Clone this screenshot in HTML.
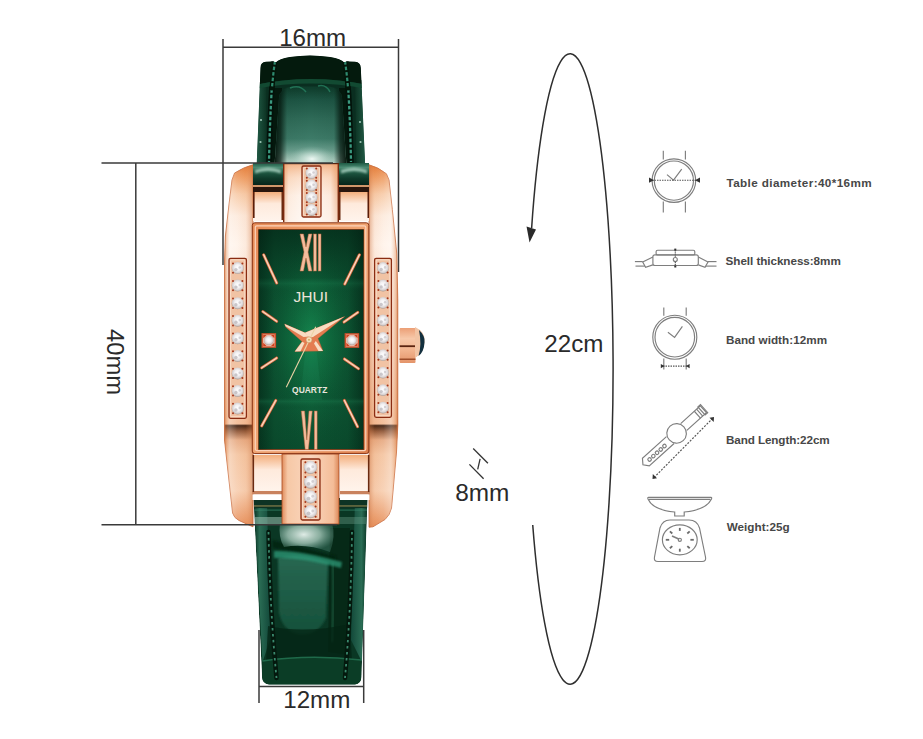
<!DOCTYPE html>
<html><head><meta charset="utf-8">
<style>
html,body{margin:0;padding:0;background:#fff;}
body{width:923px;height:739px;overflow:hidden;position:relative;font-family:"Liberation Sans",sans-serif;}
svg{position:absolute;left:0;top:0;display:block;}
.dim{font-family:"Liberation Sans",sans-serif;font-size:24.5px;fill:#2a2a2a;}
.lbl{font-family:"Liberation Sans",sans-serif;font-size:11.7px;font-weight:bold;fill:#474747;}
</style></head>
<body>
<svg width="923" height="739" viewBox="0 0 923 739">
<defs>
  <linearGradient id="gStrapH" x1="254" y1="0" x2="368" y2="0" gradientUnits="userSpaceOnUse">
    <stop offset="0" stop-color="#06200f"/>
    <stop offset="0.05" stop-color="#1d5842"/>
    <stop offset="0.12" stop-color="#0f3a29"/>
    <stop offset="0.22" stop-color="#082818"/>
    <stop offset="0.30" stop-color="#1a4d3a"/>
    <stop offset="0.50" stop-color="#3f7c67"/>
    <stop offset="0.70" stop-color="#1a4d3a"/>
    <stop offset="0.78" stop-color="#082818"/>
    <stop offset="0.88" stop-color="#0f3a29"/>
    <stop offset="0.95" stop-color="#1d5842"/>
    <stop offset="1" stop-color="#06200f"/>
  </linearGradient>
  <linearGradient id="gStrapV" x1="0" y1="85" x2="0" y2="165" gradientUnits="userSpaceOnUse">
    <stop offset="0" stop-color="#000" stop-opacity="0.55"/>
    <stop offset="0.5" stop-color="#000" stop-opacity="0.15"/>
    <stop offset="1" stop-color="#fff" stop-opacity="0.25"/>
  </linearGradient>
  <radialGradient id="gStrapHi" cx="311" cy="162" r="30" gradientUnits="userSpaceOnUse" gradientTransform="translate(311 162) scale(1 1.6) translate(-311 -162)">
    <stop offset="0" stop-color="#d8eee4" stop-opacity="0.9"/>
    <stop offset="0.5" stop-color="#8fbfae" stop-opacity="0.45"/>
    <stop offset="1" stop-color="#5a9a84" stop-opacity="0"/>
  </radialGradient>
  <linearGradient id="gBar" x1="0" y1="165" x2="0" y2="527" gradientUnits="userSpaceOnUse">
    <stop offset="0" stop-color="#e47a34"/>
    <stop offset="0.035" stop-color="#ee9c62"/>
    <stop offset="0.08" stop-color="#f7cba8"/>
    <stop offset="0.14" stop-color="#fdeadc"/>
    <stop offset="0.22" stop-color="#fff3ea"/>
    <stop offset="0.5" stop-color="#f9d8c2"/>
    <stop offset="0.715" stop-color="#f2ba94"/>
    <stop offset="0.72" stop-color="#3a1a0a"/>
    <stop offset="0.735" stop-color="#8a5030"/>
    <stop offset="0.76" stop-color="#e6a880"/>
    <stop offset="0.8" stop-color="#f4c4a0"/>
    <stop offset="0.9" stop-color="#f7ceb0"/>
    <stop offset="1" stop-color="#e68c56"/>
  </linearGradient>
  <linearGradient id="gBarL" x1="224" y1="0" x2="253" y2="0" gradientUnits="userSpaceOnUse">
    <stop offset="0" stop-color="#c2602e" stop-opacity="0.9"/>
    <stop offset="0.07" stop-color="#e0905c" stop-opacity="0.45"/>
    <stop offset="0.2" stop-color="#fff" stop-opacity="0.3"/>
    <stop offset="0.45" stop-color="#fff" stop-opacity="0.1"/>
    <stop offset="0.75" stop-color="#e8a070" stop-opacity="0.1"/>
    <stop offset="1" stop-color="#c87040" stop-opacity="0.5"/>
  </linearGradient>
  <linearGradient id="gBarR" x1="398" y1="0" x2="369" y2="0" gradientUnits="userSpaceOnUse">
    <stop offset="0" stop-color="#c2602e" stop-opacity="0.9"/>
    <stop offset="0.07" stop-color="#e0905c" stop-opacity="0.45"/>
    <stop offset="0.25" stop-color="#fff" stop-opacity="0.3"/>
    <stop offset="0.5" stop-color="#fff" stop-opacity="0.1"/>
    <stop offset="0.8" stop-color="#e8a070" stop-opacity="0.1"/>
    <stop offset="1" stop-color="#c87040" stop-opacity="0.5"/>
  </linearGradient>
  <linearGradient id="gLug" x1="0" y1="0" x2="0" y2="1">
    <stop offset="0" stop-color="#f3ae7c"/>
    <stop offset="0.4" stop-color="#feeadc"/>
    <stop offset="1" stop-color="#fff4ec"/>
  </linearGradient>
  <linearGradient id="gLugC" x1="0" y1="0" x2="1" y2="0">
    <stop offset="0" stop-color="#eaa676"/>
    <stop offset="0.1" stop-color="#fce4d2"/>
    <stop offset="0.45" stop-color="#fff5ee"/>
    <stop offset="0.85" stop-color="#fde2d0"/>
    <stop offset="1" stop-color="#e8a070"/>
  </linearGradient>
  <radialGradient id="gDial" cx="311" cy="338" r="60" gradientUnits="userSpaceOnUse" gradientTransform="translate(311 338) scale(0.85 1.7) translate(-311 -338)">
    <stop offset="0" stop-color="#15874f" stop-opacity="0.95"/>
    <stop offset="0.5" stop-color="#107443" stop-opacity="0.55"/>
    <stop offset="1" stop-color="#0d5e38" stop-opacity="0"/>
  </radialGradient>
  <linearGradient id="gDialH" x1="258.6" y1="0" x2="363.6" y2="0" gradientUnits="userSpaceOnUse">
    <stop offset="0" stop-color="#021c10" stop-opacity="0.55"/>
    <stop offset="0.15" stop-color="#021c10" stop-opacity="0.12"/>
    <stop offset="0.5" stop-color="#021c10" stop-opacity="0"/>
    <stop offset="0.85" stop-color="#021c10" stop-opacity="0.12"/>
    <stop offset="1" stop-color="#021c10" stop-opacity="0.55"/>
  </linearGradient>
  <linearGradient id="gDialV" x1="0" y1="229.6" x2="0" y2="449.6" gradientUnits="userSpaceOnUse">
    <stop offset="0" stop-color="#021c10" stop-opacity="0.55"/>
    <stop offset="0.15" stop-color="#021c10" stop-opacity="0.25"/>
    <stop offset="0.22" stop-color="#021c10" stop-opacity="0.15"/>
    <stop offset="0.245" stop-color="#2a9a66" stop-opacity="0.12"/>
    <stop offset="0.28" stop-color="#021c10" stop-opacity="0.05"/>
    <stop offset="0.5" stop-color="#021c10" stop-opacity="0"/>
    <stop offset="0.76" stop-color="#021c10" stop-opacity="0.05"/>
    <stop offset="0.78" stop-color="#2a9a66" stop-opacity="0.2"/>
    <stop offset="0.82" stop-color="#021c10" stop-opacity="0.0"/>
    <stop offset="1" stop-color="#021c10" stop-opacity="0.12"/>
  </linearGradient>
  <linearGradient id="gFrame" x1="0" y1="0" x2="1" y2="1">
    <stop offset="0" stop-color="#e68c58"/>
    <stop offset="0.5" stop-color="#efa472"/>
    <stop offset="1" stop-color="#dc7e4c"/>
  </linearGradient>
  <linearGradient id="gMark" x1="0" y1="0" x2="1" y2="0">
    <stop offset="0" stop-color="#f9d4bd"/>
    <stop offset="0.5" stop-color="#f0a882"/>
    <stop offset="1" stop-color="#d9845c"/>
  </linearGradient>
  <radialGradient id="gDia" cx="0.5" cy="0.45" r="0.55">
    <stop offset="0" stop-color="#ffffff"/>
    <stop offset="0.45" stop-color="#f2f0f2"/>
    <stop offset="0.8" stop-color="#d6d0d0"/>
    <stop offset="1" stop-color="#a89890"/>
  </radialGradient>
  <linearGradient id="gBStrapH" x1="254" y1="0" x2="368" y2="0" gradientUnits="userSpaceOnUse">
    <stop offset="0" stop-color="#052414"/>
    <stop offset="0.05" stop-color="#1b5a40"/>
    <stop offset="0.15" stop-color="#0a3323"/>
    <stop offset="0.25" stop-color="#0d3b28"/>
    <stop offset="0.45" stop-color="#2b6a52"/>
    <stop offset="0.65" stop-color="#154b34"/>
    <stop offset="0.8" stop-color="#0a3323"/>
    <stop offset="0.9" stop-color="#1a5a40"/>
    <stop offset="1" stop-color="#052414"/>
  </linearGradient>
  <linearGradient id="gCrown" x1="0" y1="0" x2="0" y2="1">
    <stop offset="0" stop-color="#ec9f76"/>
    <stop offset="0.3" stop-color="#f7c8a9"/>
    <stop offset="0.6" stop-color="#f3b792"/>
    <stop offset="1" stop-color="#e4946a"/>
  </linearGradient>

  <linearGradient id="gCP" x1="275" y1="0" x2="346" y2="0" gradientUnits="userSpaceOnUse">
    <stop offset="0" stop-color="#03140b" stop-opacity="0.95"/>
    <stop offset="0.08" stop-color="#03140b" stop-opacity="0.7"/>
    <stop offset="0.17" stop-color="#03140b" stop-opacity="0.05"/>
    <stop offset="0.5" stop-color="#03140b" stop-opacity="0"/>
    <stop offset="0.83" stop-color="#03140b" stop-opacity="0.05"/>
    <stop offset="0.92" stop-color="#03140b" stop-opacity="0.7"/>
    <stop offset="1" stop-color="#03140b" stop-opacity="0.95"/>
  </linearGradient>
  <linearGradient id="gCPV" x1="0" y1="88" x2="0" y2="166" gradientUnits="userSpaceOnUse">
    <stop offset="0" stop-color="#0f3d2c"/>
    <stop offset="0.15" stop-color="#1d5544"/>
    <stop offset="0.4" stop-color="#2f6b58"/>
    <stop offset="0.65" stop-color="#3d7b68"/>
    <stop offset="0.8" stop-color="#6a9f8e"/>
    <stop offset="0.92" stop-color="#a8cbbd"/>
    <stop offset="1" stop-color="#c5ddd3"/>
  </linearGradient>
  <linearGradient id="gSideR" x1="1" y1="0" x2="0" y2="0">
    <stop offset="0" stop-color="#061e14"/>
    <stop offset="0.4" stop-color="#215a45"/>
    <stop offset="1" stop-color="#0c3323"/>
  </linearGradient>
  <filter id="blur1" x="-20%" y="-20%" width="140%" height="140%"><feGaussianBlur stdDeviation="1.2"/></filter>
  <filter id="blur2" x="-30%" y="-30%" width="160%" height="160%"><feGaussianBlur stdDeviation="2.2"/></filter>
  <linearGradient id="gUpS" x1="0" y1="0" x2="0" y2="1">
    <stop offset="0" stop-color="#1e5a44"/>
    <stop offset="0.2" stop-color="#4a8a72"/>
    <stop offset="0.4" stop-color="#1f5a44"/>
    <stop offset="0.7" stop-color="#0f3a2a"/>
    <stop offset="1" stop-color="#06241a"/>
  </linearGradient>
  <linearGradient id="gSideB" x1="0" y1="0" x2="1" y2="0">
    <stop offset="0" stop-color="#0a3424"/>
    <stop offset="0.35" stop-color="#2a6c54"/>
    <stop offset="1" stop-color="#13493a"/>
  </linearGradient>
  <linearGradient id="gSideBR" x1="1" y1="0" x2="0" y2="0">
    <stop offset="0" stop-color="#0a3424"/>
    <stop offset="0.35" stop-color="#2a6c54"/>
    <stop offset="1" stop-color="#13493a"/>
  </linearGradient>
  <linearGradient id="gLugV" x1="0" y1="0" x2="0" y2="1">
    <stop offset="0" stop-color="#ec9a62" stop-opacity="0.7"/>
    <stop offset="0.25" stop-color="#f4b88c" stop-opacity="0.25"/>
    <stop offset="0.55" stop-color="#fff" stop-opacity="0.25"/>
    <stop offset="1" stop-color="#fff" stop-opacity="0.5"/>
  </linearGradient>
  <linearGradient id="gLugC2" x1="0" y1="0" x2="1" y2="0">
    <stop offset="0" stop-color="#e08c5c"/>
    <stop offset="0.1" stop-color="#f6c8a6"/>
    <stop offset="0.5" stop-color="#fad6be"/>
    <stop offset="0.9" stop-color="#f4bd98"/>
    <stop offset="1" stop-color="#dc8858"/>
  </linearGradient>
  <linearGradient id="gTongue" x1="0" y1="0" x2="0" y2="1">
    <stop offset="0" stop-color="#286852"/>
    <stop offset="1" stop-color="#15503a"/>
  </linearGradient>
  <radialGradient id="gHiB" cx="0.45" cy="0.4" r="0.6">
    <stop offset="0" stop-color="#eaf5f0" stop-opacity="0.95"/>
    <stop offset="0.5" stop-color="#a9cbbd" stop-opacity="0.8"/>
    <stop offset="1" stop-color="#5a9482" stop-opacity="0.3"/>
  </radialGradient>
  <linearGradient id="gBC" x1="0" y1="508" x2="0" y2="680" gradientUnits="userSpaceOnUse">
    <stop offset="0" stop-color="#0d4430"/>
    <stop offset="0.3" stop-color="#0e4a33"/>
    <stop offset="0.6" stop-color="#0b4029"/>
    <stop offset="0.8" stop-color="#08321f"/>
    <stop offset="1" stop-color="#0a3a25"/>
  </linearGradient>
  <radialGradient id="gHi2" cx="0.5" cy="0.5" r="0.5">
    <stop offset="0" stop-color="#f2fbf7" stop-opacity="0.95"/>
    <stop offset="0.45" stop-color="#c6e0d6" stop-opacity="0.6"/>
    <stop offset="1" stop-color="#8ab8a8" stop-opacity="0"/>
  </radialGradient>
  <linearGradient id="gSide" x1="0" y1="0" x2="1" y2="0">
    <stop offset="0" stop-color="#061e14"/>
    <stop offset="0.4" stop-color="#215a45"/>
    <stop offset="1" stop-color="#0c3323"/>
  </linearGradient>
  <radialGradient id="gSoft" cx="0.5" cy="0.5" r="0.5">
    <stop offset="0" stop-color="#9cc9b8" stop-opacity="0.9"/>
    <stop offset="1" stop-color="#5f9e86" stop-opacity="0"/>
  </radialGradient>
</defs>
<g stroke="#3a3a3a" stroke-width="1.5" fill="none">
  <line x1="223" y1="39" x2="223" y2="265"/>
  <line x1="398.5" y1="39" x2="398.5" y2="272"/>
  <line x1="223" y1="47.3" x2="398.5" y2="47.3"/>
</g>
<g id="watch">
<clipPath id="clipBS"><path d="M253.5,498 L367.5,498 L361.5,677 Q361,684 355,684.5 L269,684.5 Q262.5,684 262,677 Z"/></clipPath>
<g clip-path="url(#clipBS)">
<path d="M253.5,498 L367.5,498 L361.5,677 Q361,684 355,684.5 L269,684.5 Q262.5,684 262,677 Z" fill="#0a3724"/>
<path d="M254,500 L267,500 L270,640 L262.5,662 Z" fill="url(#gSideB)"/>
<path d="M355,500 L367.3,500 L362,662 L351,640 Z" fill="url(#gSideBR)"/>
<path d="M330,528 L350,528 L349,655 L328,652 Z" fill="#03200f" opacity="0.6"/>
<path d="M278,558 Q300,552 328,562 L326,618 Q318,636 298,634 Q282,630 279,612 Z" fill="url(#gTongue)" filter="url(#blur1)"/>
<path d="M333,562 Q334,600 332,642" stroke="#2a7a5a" stroke-width="1.6" fill="none" opacity="0.7" filter="url(#blur1)"/>
<path d="M268,626 Q305,634 350,624 L352,662 L266,662 Z" fill="#042414" opacity="0.75"/>
<path d="M272,540 Q300,546 336,556 L336,563 Q300,552 272,548 Z" fill="#03200f" opacity="0.75" filter="url(#blur1)"/>
<path d="M274,551 Q300,550 342,562 L341,568 Q300,557 274,558 Z" fill="#2f9a78" opacity="0.75" filter="url(#blur1)"/>
<path d="M280,523 L332,523 Q336,536 330,552 Q306,543 284,547 Q278,537 280,523 Z" fill="url(#gHiB)"/>
<path d="M262.5,661 Q310,654 361,660 L361.5,690 L261.5,690 Z" fill="#0b3d26"/>
<path d="M262.5,661 Q310,654 361,660" stroke="#1f6a4a" stroke-width="1.3" fill="none"/>
<path d="M268.5,532 Q270,610 276.5,678" stroke="#04180d" stroke-width="4.5" fill="none" stroke-linecap="round"/><path d="M268.5,532 Q270,610 276.5,678" stroke="#3a8a6e" stroke-width="1.8" stroke-dasharray="2.5,3.5" fill="none"/>
<path d="M352,532 Q351,610 345,678" stroke="#04180d" stroke-width="4.5" fill="none" stroke-linecap="round"/><path d="M352,532 Q351,610 345,678" stroke="#3a8a6e" stroke-width="1.8" stroke-dasharray="2.5,3.5" fill="none"/>
<rect x="253.5" y="499" width="114" height="9" fill="#0d3324"/>
<rect x="253.5" y="505.3" width="114" height="1.3" fill="#9a8a50" opacity="0.8"/>
<rect x="253.5" y="509.5" width="114" height="1.2" fill="#3a8a70" opacity="0.6"/>
<path d="M254,517 L283,517 L283,524 L254,524 Z" fill="#9cc0b0" opacity="0.55"/>
<path d="M339,517 L367,517 L367,524 L339,524 Z" fill="#6a9a88" opacity="0.4"/>
</g>
<clipPath id="clipTS"><path d="M260.5,68 Q260.5,62 266,61.8 L273,61.5 L276,62.5 Q279,58.5 290,57 Q310,54 330,57 Q341,58.5 344,62.5 L347,61.5 L355,61.8 Q360.5,62 360.8,68 L366.5,195 L255.5,195 Z"/></clipPath>
<g clip-path="url(#clipTS)">
<path d="M260.5,68 Q260.5,62 266,61.8 L273,61.5 L276,62.5 Q279,58.5 290,57 Q310,54 330,57 Q341,58.5 344,62.5 L347,61.5 L355,61.8 Q360.5,62 360.8,68 L366.5,195 L255.5,195 Z" fill="#0a2e20"/>
<path d="M250,80 L266.5,80 L265.5,170 L250,170 Z" fill="url(#gSide)"/>
<path d="M355,80 L372,80 L372,170 L356.5,170 Z" fill="url(#gSideR)"/>
<path d="M270,88 L282,88 L278,166 L268,166 Z" fill="#03140b" opacity="0.85"/>
<path d="M339,88 L351,88 L353,166 L343,166 Z" fill="#03140b" opacity="0.85"/>
<path d="M279,98 Q280,88 292,86.5 L329,86.5 Q341,88 342,98 L346.5,166 L274.5,166 Z" fill="url(#gCPV)"/>
<path d="M279,98 Q280,88 292,86.5 L329,86.5 Q341,88 342,98 L346.5,166 L274.5,166 Z" fill="url(#gCP)"/>
<ellipse cx="312" cy="159" rx="24" ry="13" fill="url(#gHi2)"/>
<path d="M273.5,62 Q270,110 269,162" stroke="#03120a" stroke-width="5.5" fill="none" stroke-linecap="round"/><path d="M273.5,62 Q270,110 269,162" stroke="#3a9a80" stroke-width="2.3" stroke-dasharray="3.5,2" fill="none"/>
<path d="M346.5,62 Q350,110 351,162" stroke="#03120a" stroke-width="5.5" fill="none" stroke-linecap="round"/><path d="M346.5,62 Q350,110 351,162" stroke="#3a9a80" stroke-width="2.3" stroke-dasharray="3.5,2" fill="none"/>
<circle cx="261" cy="120" r="1.1" fill="#bfe3d4" opacity="0.8"/>
<circle cx="260.5" cy="142" r="1.1" fill="#bfe3d4" opacity="0.8"/>
<circle cx="360" cy="122" r="1.1" fill="#bfe3d4" opacity="0.8"/>
<circle cx="360.5" cy="142" r="1.1" fill="#bfe3d4" opacity="0.8"/>
<path d="M250,50 L372,50 L372,86 Q311,72 250,86 Z" fill="#041a0d"/>
<path d="M250,86 Q311,72 372,86 L372,90 Q311,77 250,90 Z" fill="#124a32"/>
<path d="M275,61 Q273,75 272,88" stroke="#031509" stroke-width="5" fill="none" stroke-linecap="round"/><path d="M275,61 Q273,75 272,88" stroke="#2f8c70" stroke-width="2.2" stroke-dasharray="3.5,2" fill="none"/>
<path d="M345,61 Q347,75 348,88" stroke="#031509" stroke-width="5" fill="none" stroke-linecap="round"/><path d="M345,61 Q347,75 348,88" stroke="#2f8c70" stroke-width="2.2" stroke-dasharray="3.5,2" fill="none"/>
<path d="M290,88 Q300,84 306,92 M318,86 Q326,84 330,92" stroke="#2a8a68" stroke-width="1.5" fill="none" opacity="0.7"/>
</g>
<path d="M253,164.8 Q244,167 234.6,173 L232,180 L229.2,203 L225.4,236 L224.5,262 L224.5,440 L232.6,513 Q234,518 239,520.5 L250,525.5 L253,526.8 Z" fill="url(#gBar)" stroke="#c8683a" stroke-width="0.8"/>
<path d="M253,164.8 Q244,167 234.6,173 L232,180 L229.2,203 L225.4,236 L224.5,262 L224.5,440 L232.6,513 Q234,518 239,520.5 L250,525.5 L253,526.8 Z" fill="url(#gBarL)"/>
<path d="M369,164.8 Q378,167 386.4,173.8 L389,180 L392.3,209.5 L396.8,254 L397.8,300 L397.8,425 L396.5,452 L391.5,508 Q390,515 385,519.5 L373,526.8 L369,527.2 Z" fill="url(#gBar)" stroke="#c8683a" stroke-width="0.8"/>
<path d="M369,164.8 Q378,167 386.4,173.8 L389,180 L392.3,209.5 L396.8,254 L397.8,300 L397.8,425 L396.5,452 L391.5,508 Q390,515 385,519.5 L373,526.8 L369,527.2 Z" fill="url(#gBarR)"/>
<rect x="253" y="163" width="30" height="22" fill="url(#gUpS)"/>
<path d="M255,170 Q268,165 281,170 L281,173.5 Q268,168.5 255,173.5 Z" fill="#b8dccc" opacity="0.75" filter="url(#blur1)"/>
<rect x="253" y="185" width="30" height="2" fill="#d0966a"/>
<rect x="253" y="187" width="30" height="5" fill="#2a150c"/>
<rect x="253" y="192" width="30" height="29" fill="url(#gLug)"/>
<rect x="339" y="163" width="30" height="22" fill="url(#gUpS)"/>
<path d="M341,170 Q354,165 367,170 L367,173.5 Q354,168.5 341,173.5 Z" fill="#b8dccc" opacity="0.75" filter="url(#blur1)"/>
<rect x="339" y="185" width="30" height="2" fill="#d0966a"/>
<rect x="339" y="187" width="30" height="5" fill="#2a150c"/>
<rect x="339" y="192" width="30" height="29" fill="url(#gLug)"/>
<rect x="253" y="192" width="1.6" height="26" fill="#5a1d08"/>
<rect x="281.5" y="192" width="1.5" height="28" fill="#6a2a10"/>
<rect x="339" y="192" width="1.5" height="28" fill="#6a2a10"/>
<rect x="367.5" y="192" width="1.5" height="26" fill="#5a1d08"/>
<rect x="283" y="163.5" width="56" height="58.5" fill="url(#gLugC)"/>
<rect x="283" y="163.5" width="56" height="58.5" fill="url(#gLugV)"/>
<rect x="283" y="163" width="56" height="1.2" fill="#5a2410"/>
<rect x="283" y="163.5" width="1.4" height="58.5" fill="#7a2a10"/>
<rect x="337.6" y="163.5" width="1.4" height="58.5" fill="#7a2a10"/>
<rect x="302" y="166" width="19" height="51" rx="1.5" fill="#f1c3a4" stroke="#8a2c12" stroke-width="1.3"/><rect x="303.6" y="167.6" width="15.8" height="47.8" rx="1" fill="none" stroke="#fbe2d2" stroke-width="0.8"/><circle cx="311.5" cy="173.1" r="6.0" fill="url(#gDia)"/><circle cx="309.7" cy="174.6" r="1.68" fill="#b8b4b8" opacity="0.7"/><circle cx="313.6" cy="172.5" r="1.32" fill="#c4c0c4" opacity="0.7"/><circle cx="306.8" cy="168.5" r="1.0" fill="#a8381c"/><circle cx="316.2" cy="168.5" r="1.0" fill="#a8381c"/><circle cx="306.8" cy="177.8" r="1.0" fill="#a8381c"/><circle cx="316.2" cy="177.8" r="1.0" fill="#a8381c"/><circle cx="311.5" cy="185.4" r="6.0" fill="url(#gDia)"/><circle cx="309.7" cy="186.9" r="1.68" fill="#b8b4b8" opacity="0.7"/><circle cx="313.6" cy="184.8" r="1.32" fill="#c4c0c4" opacity="0.7"/><circle cx="306.8" cy="180.7" r="1.0" fill="#a8381c"/><circle cx="316.2" cy="180.7" r="1.0" fill="#a8381c"/><circle cx="306.8" cy="190.0" r="1.0" fill="#a8381c"/><circle cx="316.2" cy="190.0" r="1.0" fill="#a8381c"/><circle cx="311.5" cy="197.6" r="6.0" fill="url(#gDia)"/><circle cx="309.7" cy="199.1" r="1.68" fill="#b8b4b8" opacity="0.7"/><circle cx="313.6" cy="197.0" r="1.32" fill="#c4c0c4" opacity="0.7"/><circle cx="306.8" cy="193.0" r="1.0" fill="#a8381c"/><circle cx="316.2" cy="193.0" r="1.0" fill="#a8381c"/><circle cx="306.8" cy="202.3" r="1.0" fill="#a8381c"/><circle cx="316.2" cy="202.3" r="1.0" fill="#a8381c"/><circle cx="311.5" cy="209.9" r="6.0" fill="url(#gDia)"/><circle cx="309.7" cy="211.4" r="1.68" fill="#b8b4b8" opacity="0.7"/><circle cx="313.6" cy="209.3" r="1.32" fill="#c4c0c4" opacity="0.7"/><circle cx="306.8" cy="205.2" r="1.0" fill="#a8381c"/><circle cx="316.2" cy="205.2" r="1.0" fill="#a8381c"/><circle cx="306.8" cy="214.5" r="1.0" fill="#a8381c"/><circle cx="316.2" cy="214.5" r="1.0" fill="#a8381c"/>
<rect x="252.5" y="455" width="29.5" height="37" fill="url(#gLug)"/>
<rect x="252.5" y="491" width="29.5" height="3.5" fill="#c9825e"/>
<rect x="252.5" y="494.5" width="29.5" height="5.5" fill="#ffffff"/>
<rect x="340" y="455" width="29.5" height="37" fill="url(#gLug)"/>
<rect x="340" y="491" width="29.5" height="3.5" fill="#c9825e"/>
<rect x="340" y="494.5" width="29.5" height="5.5" fill="#ffffff"/>
<rect x="252.5" y="455" width="1.6" height="37" fill="#6a2a10"/>
<rect x="367.9" y="455" width="1.6" height="37" fill="#6a2a10"/>
<rect x="282" y="454" width="57" height="70" fill="url(#gLugC2)" stroke="#a84a22" stroke-width="0.8"/>
<rect x="301" y="459" width="19" height="61" rx="1.5" fill="#f1c3a4" stroke="#8a2c12" stroke-width="1.3"/><rect x="302.6" y="460.6" width="15.8" height="57.8" rx="1" fill="none" stroke="#fbe2d2" stroke-width="0.8"/><circle cx="310.5" cy="467.4" r="6.6" fill="url(#gDia)"/><circle cx="308.5" cy="469.0" r="1.85" fill="#b8b4b8" opacity="0.7"/><circle cx="312.8" cy="466.7" r="1.45" fill="#c4c0c4" opacity="0.7"/><circle cx="305.4" cy="462.2" r="1.0" fill="#a8381c"/><circle cx="315.6" cy="462.2" r="1.0" fill="#a8381c"/><circle cx="305.4" cy="472.5" r="1.0" fill="#a8381c"/><circle cx="315.6" cy="472.5" r="1.0" fill="#a8381c"/><circle cx="310.5" cy="482.1" r="6.6" fill="url(#gDia)"/><circle cx="308.5" cy="483.8" r="1.85" fill="#b8b4b8" opacity="0.7"/><circle cx="312.8" cy="481.5" r="1.45" fill="#c4c0c4" opacity="0.7"/><circle cx="305.4" cy="477.0" r="1.0" fill="#a8381c"/><circle cx="315.6" cy="477.0" r="1.0" fill="#a8381c"/><circle cx="305.4" cy="487.3" r="1.0" fill="#a8381c"/><circle cx="315.6" cy="487.3" r="1.0" fill="#a8381c"/><circle cx="310.5" cy="496.9" r="6.6" fill="url(#gDia)"/><circle cx="308.5" cy="498.5" r="1.85" fill="#b8b4b8" opacity="0.7"/><circle cx="312.8" cy="496.2" r="1.45" fill="#c4c0c4" opacity="0.7"/><circle cx="305.4" cy="491.7" r="1.0" fill="#a8381c"/><circle cx="315.6" cy="491.7" r="1.0" fill="#a8381c"/><circle cx="305.4" cy="502.0" r="1.0" fill="#a8381c"/><circle cx="315.6" cy="502.0" r="1.0" fill="#a8381c"/><circle cx="310.5" cy="511.6" r="6.6" fill="url(#gDia)"/><circle cx="308.5" cy="513.3" r="1.85" fill="#b8b4b8" opacity="0.7"/><circle cx="312.8" cy="511.0" r="1.45" fill="#c4c0c4" opacity="0.7"/><circle cx="305.4" cy="506.5" r="1.0" fill="#a8381c"/><circle cx="315.6" cy="506.5" r="1.0" fill="#a8381c"/><circle cx="305.4" cy="516.8" r="1.0" fill="#a8381c"/><circle cx="315.6" cy="516.8" r="1.0" fill="#a8381c"/>
<rect x="252.3" y="222.8" width="116.5" height="230.8" rx="2.5" fill="url(#gFrame)" stroke="#8a3212" stroke-width="1"/>
<rect x="255.3" y="225.8" width="110.5" height="224.8" rx="1.5" fill="none" stroke="#fbd3bb" stroke-width="1.2"/>
<rect x="258.6" y="229.6" width="105" height="220" fill="#0c5533" stroke="#9a3e18" stroke-width="0.8"/>
<rect x="258.6" y="229.6" width="105" height="220" fill="url(#gDial)"/>
<rect x="258.6" y="229.6" width="105" height="220" fill="url(#gDialH)"/>
<rect x="258.6" y="229.6" width="105" height="220" fill="url(#gDialV)"/>
<path d="M306,345 L316,345 L322,400 L300,400 Z" fill="#2ab078" opacity="0.12"/>
<line x1="263.7" y1="254.8" x2="276.7" y2="283" stroke="#a84a22" stroke-width="3.1" stroke-linecap="round"/><line x1="263.7" y1="254.8" x2="276.7" y2="283" stroke="#ee9f78" stroke-width="2.2" stroke-linecap="round"/><line x1="263.7" y1="254.8" x2="276.7" y2="283" stroke="#fde0cc" stroke-width="0.9900000000000001" stroke-linecap="round"/>
<line x1="359.4" y1="254.8" x2="344.8" y2="284" stroke="#a84a22" stroke-width="3.1" stroke-linecap="round"/><line x1="359.4" y1="254.8" x2="344.8" y2="284" stroke="#ee9f78" stroke-width="2.2" stroke-linecap="round"/><line x1="359.4" y1="254.8" x2="344.8" y2="284" stroke="#fde0cc" stroke-width="0.9900000000000001" stroke-linecap="round"/>
<line x1="262.8" y1="311.6" x2="276.7" y2="321.3" stroke="#a84a22" stroke-width="3.1" stroke-linecap="round"/><line x1="262.8" y1="311.6" x2="276.7" y2="321.3" stroke="#ee9f78" stroke-width="2.2" stroke-linecap="round"/><line x1="262.8" y1="311.6" x2="276.7" y2="321.3" stroke="#fde0cc" stroke-width="0.9900000000000001" stroke-linecap="round"/>
<line x1="357.8" y1="312.4" x2="344" y2="322" stroke="#a84a22" stroke-width="3.1" stroke-linecap="round"/><line x1="357.8" y1="312.4" x2="344" y2="322" stroke="#ee9f78" stroke-width="2.2" stroke-linecap="round"/><line x1="357.8" y1="312.4" x2="344" y2="322" stroke="#fde0cc" stroke-width="0.9900000000000001" stroke-linecap="round"/>
<line x1="276.7" y1="358" x2="261.7" y2="367.8" stroke="#a84a22" stroke-width="3.1" stroke-linecap="round"/><line x1="276.7" y1="358" x2="261.7" y2="367.8" stroke="#ee9f78" stroke-width="2.2" stroke-linecap="round"/><line x1="276.7" y1="358" x2="261.7" y2="367.8" stroke="#fde0cc" stroke-width="0.9900000000000001" stroke-linecap="round"/>
<line x1="344.4" y1="359" x2="358.5" y2="368.7" stroke="#a84a22" stroke-width="3.1" stroke-linecap="round"/><line x1="344.4" y1="359" x2="358.5" y2="368.7" stroke="#ee9f78" stroke-width="2.2" stroke-linecap="round"/><line x1="344.4" y1="359" x2="358.5" y2="368.7" stroke="#fde0cc" stroke-width="0.9900000000000001" stroke-linecap="round"/>
<line x1="275.8" y1="400.4" x2="261.7" y2="425.9" stroke="#a84a22" stroke-width="3.1" stroke-linecap="round"/><line x1="275.8" y1="400.4" x2="261.7" y2="425.9" stroke="#ee9f78" stroke-width="2.2" stroke-linecap="round"/><line x1="275.8" y1="400.4" x2="261.7" y2="425.9" stroke="#fde0cc" stroke-width="0.9900000000000001" stroke-linecap="round"/>
<line x1="344.4" y1="400.4" x2="357.6" y2="426.7" stroke="#a84a22" stroke-width="3.1" stroke-linecap="round"/><line x1="344.4" y1="400.4" x2="357.6" y2="426.7" stroke="#ee9f78" stroke-width="2.2" stroke-linecap="round"/><line x1="344.4" y1="400.4" x2="357.6" y2="426.7" stroke="#fde0cc" stroke-width="0.9900000000000001" stroke-linecap="round"/>
<path d="M300,234 L303.5,234 L306,247 L308.5,234 L312,234 L308,252 L312,271 L308.5,271 L306,258 L303.5,271 L300,271 L304,252 Z" fill="#f3bc9c" stroke="#c0643c" stroke-width="0.5"/>
<rect x="313.6" y="234" width="2.8" height="37" fill="#f3bc9c" stroke="#c0643c" stroke-width="0.5"/>
<rect x="318.2" y="234" width="2.8" height="37" fill="#f3bc9c" stroke="#c0643c" stroke-width="0.5"/>
<path d="M301.3,411 L304.6,411 L306.8,440 L309,411 L312.2,411 L308.4,449.5 L305.2,449.5 Z" fill="#f3bc9c" stroke="#c0643c" stroke-width="0.5"/>
<rect x="314.3" y="411" width="2.8" height="38.5" fill="#f3bc9c" stroke="#c0643c" stroke-width="0.5"/>
<rect x="262.2" y="333.9" width="13.2" height="13.2" fill="#e8b8a8" stroke="#d0502c" stroke-width="1.4"/>
<circle cx="268.8" cy="340.5" r="4.6" fill="url(#gDia)"/>
<path d="M263.2,334.9 L266.6,334.9 L263.2,338.3 Z" fill="#d0401c"/>
<path d="M274.4,334.9 L271.0,334.9 L274.4,338.3 Z" fill="#d0401c"/>
<path d="M263.2,346.1 L266.6,346.1 L263.2,342.7 Z" fill="#d0401c"/>
<path d="M274.4,346.1 L271.0,346.1 L274.4,342.7 Z" fill="#d0401c"/>
<rect x="345.3" y="333.9" width="13.2" height="13.2" fill="#e8b8a8" stroke="#d0502c" stroke-width="1.4"/>
<circle cx="351.90000000000003" cy="340.5" r="4.6" fill="url(#gDia)"/>
<path d="M346.3,334.9 L349.7,334.9 L346.3,338.3 Z" fill="#d0401c"/>
<path d="M357.5,334.9 L354.1,334.9 L357.5,338.3 Z" fill="#d0401c"/>
<path d="M346.3,346.1 L349.7,346.1 L346.3,342.7 Z" fill="#d0401c"/>
<path d="M357.5,346.1 L354.1,346.1 L357.5,342.7 Z" fill="#d0401c"/>
<text x="293.4" y="301.8" font-family="Liberation Sans, sans-serif" font-size="14.5" fill="#ece4d8" textLength="34.6" lengthAdjust="spacingAndGlyphs">JHUI</text>
<text x="292.1" y="393.3" font-family="Liberation Sans, sans-serif" font-size="9" font-weight="bold" fill="#e8e4dc" textLength="35.2" lengthAdjust="spacingAndGlyphs">QUARTZ</text>
<polygon points="284.6,323.9 305,332.8 344.6,316.6 318,338.5 323,351 294.8,351.4 302,341.5 285.6,327" fill="#e47c50" stroke="#b85530" stroke-width="0.4"/>
<polygon points="284.6,323.9 305,332.8 309.5,336.5 303.5,337 285.6,326.2" fill="#f8dcc2"/>
<polygon points="344.6,316.6 305,332.8 309.5,337.5 313,337" fill="#f8dcc2"/>
<polygon points="294.8,351.4 302.2,341.8 304.5,343 300.5,351.3" fill="#f8dcc2"/>
<polygon points="323,351 315.8,341 314,343.5 318.5,351" fill="#f8dcc2"/>
<line x1="315.8" y1="326.8" x2="286.3" y2="387.2" stroke="#ecd2a6" stroke-width="1.1"/>
<circle cx="309" cy="339.8" r="3" fill="#f6dcb8" stroke="#c89060" stroke-width="0.6"/>
<circle cx="309" cy="339.8" r="0.9" fill="#c8a050"/>
<rect x="229" y="258.3" width="17.4" height="160" rx="1.5" fill="#f1c3a4" stroke="#8a2c12" stroke-width="1.3"/><rect x="230.6" y="259.90000000000003" width="14.2" height="156.8" rx="1" fill="none" stroke="#fbe2d2" stroke-width="0.8"/><circle cx="237.7" cy="268.1" r="6.0" fill="url(#gDia)"/><circle cx="235.9" cy="269.6" r="1.68" fill="#b8b4b8" opacity="0.7"/><circle cx="239.8" cy="267.5" r="1.32" fill="#c4c0c4" opacity="0.7"/><circle cx="233.0" cy="263.4" r="1.0" fill="#a8381c"/><circle cx="242.4" cy="263.4" r="1.0" fill="#a8381c"/><circle cx="233.0" cy="272.8" r="1.0" fill="#a8381c"/><circle cx="242.4" cy="272.8" r="1.0" fill="#a8381c"/><circle cx="237.7" cy="285.6" r="6.0" fill="url(#gDia)"/><circle cx="235.9" cy="287.1" r="1.68" fill="#b8b4b8" opacity="0.7"/><circle cx="239.8" cy="285.0" r="1.32" fill="#c4c0c4" opacity="0.7"/><circle cx="233.0" cy="281.0" r="1.0" fill="#a8381c"/><circle cx="242.4" cy="281.0" r="1.0" fill="#a8381c"/><circle cx="233.0" cy="290.3" r="1.0" fill="#a8381c"/><circle cx="242.4" cy="290.3" r="1.0" fill="#a8381c"/><circle cx="237.7" cy="303.2" r="6.0" fill="url(#gDia)"/><circle cx="235.9" cy="304.7" r="1.68" fill="#b8b4b8" opacity="0.7"/><circle cx="239.8" cy="302.6" r="1.32" fill="#c4c0c4" opacity="0.7"/><circle cx="233.0" cy="298.5" r="1.0" fill="#a8381c"/><circle cx="242.4" cy="298.5" r="1.0" fill="#a8381c"/><circle cx="233.0" cy="307.9" r="1.0" fill="#a8381c"/><circle cx="242.4" cy="307.9" r="1.0" fill="#a8381c"/><circle cx="237.7" cy="320.7" r="6.0" fill="url(#gDia)"/><circle cx="235.9" cy="322.2" r="1.68" fill="#b8b4b8" opacity="0.7"/><circle cx="239.8" cy="320.1" r="1.32" fill="#c4c0c4" opacity="0.7"/><circle cx="233.0" cy="316.1" r="1.0" fill="#a8381c"/><circle cx="242.4" cy="316.1" r="1.0" fill="#a8381c"/><circle cx="233.0" cy="325.4" r="1.0" fill="#a8381c"/><circle cx="242.4" cy="325.4" r="1.0" fill="#a8381c"/><circle cx="237.7" cy="338.3" r="6.0" fill="url(#gDia)"/><circle cx="235.9" cy="339.8" r="1.68" fill="#b8b4b8" opacity="0.7"/><circle cx="239.8" cy="337.7" r="1.32" fill="#c4c0c4" opacity="0.7"/><circle cx="233.0" cy="333.6" r="1.0" fill="#a8381c"/><circle cx="242.4" cy="333.6" r="1.0" fill="#a8381c"/><circle cx="233.0" cy="343.0" r="1.0" fill="#a8381c"/><circle cx="242.4" cy="343.0" r="1.0" fill="#a8381c"/><circle cx="237.7" cy="355.9" r="6.0" fill="url(#gDia)"/><circle cx="235.9" cy="357.4" r="1.68" fill="#b8b4b8" opacity="0.7"/><circle cx="239.8" cy="355.3" r="1.32" fill="#c4c0c4" opacity="0.7"/><circle cx="233.0" cy="351.2" r="1.0" fill="#a8381c"/><circle cx="242.4" cy="351.2" r="1.0" fill="#a8381c"/><circle cx="233.0" cy="360.5" r="1.0" fill="#a8381c"/><circle cx="242.4" cy="360.5" r="1.0" fill="#a8381c"/><circle cx="237.7" cy="373.4" r="6.0" fill="url(#gDia)"/><circle cx="235.9" cy="374.9" r="1.68" fill="#b8b4b8" opacity="0.7"/><circle cx="239.8" cy="372.8" r="1.32" fill="#c4c0c4" opacity="0.7"/><circle cx="233.0" cy="368.7" r="1.0" fill="#a8381c"/><circle cx="242.4" cy="368.7" r="1.0" fill="#a8381c"/><circle cx="233.0" cy="378.1" r="1.0" fill="#a8381c"/><circle cx="242.4" cy="378.1" r="1.0" fill="#a8381c"/><circle cx="237.7" cy="391.0" r="6.0" fill="url(#gDia)"/><circle cx="235.9" cy="392.5" r="1.68" fill="#b8b4b8" opacity="0.7"/><circle cx="239.8" cy="390.4" r="1.32" fill="#c4c0c4" opacity="0.7"/><circle cx="233.0" cy="386.3" r="1.0" fill="#a8381c"/><circle cx="242.4" cy="386.3" r="1.0" fill="#a8381c"/><circle cx="233.0" cy="395.6" r="1.0" fill="#a8381c"/><circle cx="242.4" cy="395.6" r="1.0" fill="#a8381c"/><circle cx="237.7" cy="408.5" r="6.0" fill="url(#gDia)"/><circle cx="235.9" cy="410.0" r="1.68" fill="#b8b4b8" opacity="0.7"/><circle cx="239.8" cy="407.9" r="1.32" fill="#c4c0c4" opacity="0.7"/><circle cx="233.0" cy="403.8" r="1.0" fill="#a8381c"/><circle cx="242.4" cy="403.8" r="1.0" fill="#a8381c"/><circle cx="233.0" cy="413.2" r="1.0" fill="#a8381c"/><circle cx="242.4" cy="413.2" r="1.0" fill="#a8381c"/>
<rect x="374.6" y="258.3" width="16.8" height="159" rx="1.5" fill="#f1c3a4" stroke="#8a2c12" stroke-width="1.3"/><rect x="376.20000000000005" y="259.90000000000003" width="13.600000000000001" height="155.8" rx="1" fill="none" stroke="#fbe2d2" stroke-width="0.8"/><circle cx="383.0" cy="268.0" r="5.9" fill="url(#gDia)"/><circle cx="381.2" cy="269.5" r="1.65" fill="#b8b4b8" opacity="0.7"/><circle cx="385.1" cy="267.4" r="1.30" fill="#c4c0c4" opacity="0.7"/><circle cx="378.4" cy="263.4" r="1.0" fill="#a8381c"/><circle cx="387.6" cy="263.4" r="1.0" fill="#a8381c"/><circle cx="378.4" cy="272.6" r="1.0" fill="#a8381c"/><circle cx="387.6" cy="272.6" r="1.0" fill="#a8381c"/><circle cx="383.0" cy="285.5" r="5.9" fill="url(#gDia)"/><circle cx="381.2" cy="286.9" r="1.65" fill="#b8b4b8" opacity="0.7"/><circle cx="385.1" cy="284.9" r="1.30" fill="#c4c0c4" opacity="0.7"/><circle cx="378.4" cy="280.9" r="1.0" fill="#a8381c"/><circle cx="387.6" cy="280.9" r="1.0" fill="#a8381c"/><circle cx="378.4" cy="290.1" r="1.0" fill="#a8381c"/><circle cx="387.6" cy="290.1" r="1.0" fill="#a8381c"/><circle cx="383.0" cy="302.9" r="5.9" fill="url(#gDia)"/><circle cx="381.2" cy="304.4" r="1.65" fill="#b8b4b8" opacity="0.7"/><circle cx="385.1" cy="302.3" r="1.30" fill="#c4c0c4" opacity="0.7"/><circle cx="378.4" cy="298.3" r="1.0" fill="#a8381c"/><circle cx="387.6" cy="298.3" r="1.0" fill="#a8381c"/><circle cx="378.4" cy="307.5" r="1.0" fill="#a8381c"/><circle cx="387.6" cy="307.5" r="1.0" fill="#a8381c"/><circle cx="383.0" cy="320.4" r="5.9" fill="url(#gDia)"/><circle cx="381.2" cy="321.8" r="1.65" fill="#b8b4b8" opacity="0.7"/><circle cx="385.1" cy="319.8" r="1.30" fill="#c4c0c4" opacity="0.7"/><circle cx="378.4" cy="315.8" r="1.0" fill="#a8381c"/><circle cx="387.6" cy="315.8" r="1.0" fill="#a8381c"/><circle cx="378.4" cy="325.0" r="1.0" fill="#a8381c"/><circle cx="387.6" cy="325.0" r="1.0" fill="#a8381c"/><circle cx="383.0" cy="337.8" r="5.9" fill="url(#gDia)"/><circle cx="381.2" cy="339.3" r="1.65" fill="#b8b4b8" opacity="0.7"/><circle cx="385.1" cy="337.2" r="1.30" fill="#c4c0c4" opacity="0.7"/><circle cx="378.4" cy="333.2" r="1.0" fill="#a8381c"/><circle cx="387.6" cy="333.2" r="1.0" fill="#a8381c"/><circle cx="378.4" cy="342.4" r="1.0" fill="#a8381c"/><circle cx="387.6" cy="342.4" r="1.0" fill="#a8381c"/><circle cx="383.0" cy="355.2" r="5.9" fill="url(#gDia)"/><circle cx="381.2" cy="356.7" r="1.65" fill="#b8b4b8" opacity="0.7"/><circle cx="385.1" cy="354.7" r="1.30" fill="#c4c0c4" opacity="0.7"/><circle cx="378.4" cy="350.6" r="1.0" fill="#a8381c"/><circle cx="387.6" cy="350.6" r="1.0" fill="#a8381c"/><circle cx="378.4" cy="359.8" r="1.0" fill="#a8381c"/><circle cx="387.6" cy="359.8" r="1.0" fill="#a8381c"/><circle cx="383.0" cy="372.7" r="5.9" fill="url(#gDia)"/><circle cx="381.2" cy="374.2" r="1.65" fill="#b8b4b8" opacity="0.7"/><circle cx="385.1" cy="372.1" r="1.30" fill="#c4c0c4" opacity="0.7"/><circle cx="378.4" cy="368.1" r="1.0" fill="#a8381c"/><circle cx="387.6" cy="368.1" r="1.0" fill="#a8381c"/><circle cx="378.4" cy="377.3" r="1.0" fill="#a8381c"/><circle cx="387.6" cy="377.3" r="1.0" fill="#a8381c"/><circle cx="383.0" cy="390.1" r="5.9" fill="url(#gDia)"/><circle cx="381.2" cy="391.6" r="1.65" fill="#b8b4b8" opacity="0.7"/><circle cx="385.1" cy="389.5" r="1.30" fill="#c4c0c4" opacity="0.7"/><circle cx="378.4" cy="385.5" r="1.0" fill="#a8381c"/><circle cx="387.6" cy="385.5" r="1.0" fill="#a8381c"/><circle cx="378.4" cy="394.7" r="1.0" fill="#a8381c"/><circle cx="387.6" cy="394.7" r="1.0" fill="#a8381c"/><circle cx="383.0" cy="407.6" r="5.9" fill="url(#gDia)"/><circle cx="381.2" cy="409.1" r="1.65" fill="#b8b4b8" opacity="0.7"/><circle cx="385.1" cy="407.0" r="1.30" fill="#c4c0c4" opacity="0.7"/><circle cx="378.4" cy="403.0" r="1.0" fill="#a8381c"/><circle cx="387.6" cy="403.0" r="1.0" fill="#a8381c"/><circle cx="378.4" cy="412.2" r="1.0" fill="#a8381c"/><circle cx="387.6" cy="412.2" r="1.0" fill="#a8381c"/>
<rect x="399.5" y="328" width="16" height="35" rx="1" fill="url(#gCrown)"/>
<rect x="399.5" y="345.3" width="16" height="1.8" fill="#5a2410"/>
<rect x="399.5" y="358.6" width="16" height="1.2" fill="#8a3a18"/>
<path d="M415,327 Q426,332 424.5,342 Q424,353 415,358 Z" fill="#f2c4a4"/>
<path d="M419,330 Q425.5,336 424.5,342.5 Q424,352 418.5,356 Q422,345 419,330 Z" fill="#13303f"/>
</g>
<g stroke="#3a3a3a" stroke-width="1.5" fill="none">
  <line x1="101.5" y1="163" x2="333" y2="163"/>
  <line x1="101.5" y1="524.8" x2="337" y2="524.8"/>
  <line x1="135.8" y1="163" x2="135.8" y2="524.8"/>
  <line x1="259" y1="630" x2="259" y2="703"/>
  <line x1="363.7" y1="630" x2="363.7" y2="703"/>
  <line x1="259" y1="686.5" x2="363.7" y2="686.5"/>
</g>
<text class="dim" x="279.2" y="46" textLength="67" lengthAdjust="spacingAndGlyphs">16mm</text>
<text class="dim" x="283.2" y="707.5" textLength="67.2" lengthAdjust="spacingAndGlyphs">12mm</text>
<text class="dim" x="544.3" y="352" textLength="59.1" lengthAdjust="spacingAndGlyphs">22cm</text>
<text class="dim" x="455.2" y="500.7" textLength="54.2" lengthAdjust="spacingAndGlyphs">8mm</text>
<text class="dim" transform="translate(107.2,329) rotate(90)" x="0" y="0" textLength="66" lengthAdjust="spacingAndGlyphs">40mm</text>
<path d="M531.64,228 A43,315.2 0 1 1 532.73,525" stroke="#2e2e2e" stroke-width="1.5" fill="none"/>
<path d="M526.5,226.5 L536,229.5 L529.5,242.5 Z" fill="#2a2a2a"/>
<g stroke="#333" stroke-width="1.3" fill="none">
  <line x1="473.2" y1="448.5" x2="487.9" y2="463.2"/>
  <line x1="469.4" y1="464.4" x2="483.6" y2="478.8"/>
  <line x1="480.1" y1="458.9" x2="477.7" y2="469.4"/>
</g>
<text class="lbl" x="726.5" y="186.8" textLength="145.2" lengthAdjust="spacing">Table diameter:40*16mm</text>
<text class="lbl" x="725.6" y="264.8" textLength="115.2" lengthAdjust="spacing">Shell thickness:8mm</text>
<text class="lbl" x="725.9" y="344" textLength="101.2" lengthAdjust="spacing">Band width:12mm</text>
<text class="lbl" x="725.9" y="443.7" textLength="103.8" lengthAdjust="spacing">Band Length:22cm</text>
<text class="lbl" x="726.7" y="531.3" textLength="63" lengthAdjust="spacing">Weight:25g</text>
<g stroke="#7e7e7e" stroke-width="1.15" fill="none">
  <!-- icon1 table diameter -->
  <circle cx="673.9" cy="180.6" r="21.8"/>
  <circle cx="673.9" cy="180.6" r="19.6"/>
  <line x1="663.3" y1="150.8" x2="663.3" y2="159.6"/>
  <line x1="685.4" y1="150.8" x2="685.4" y2="159.6"/>
  <line x1="663.3" y1="201.6" x2="663.3" y2="212.5"/>
  <line x1="685.4" y1="201.6" x2="685.4" y2="212.5"/>
  <polyline points="667,174.6 673.5,180.2 681.7,169.2"/>
  <line x1="652" y1="180.2" x2="697" y2="180.2" stroke-dasharray="1.5,1" stroke="#555"/>
  <!-- icon2 shell thickness -->
  <rect x="656.1" y="250.2" width="38.7" height="4.8" rx="1.5"/>
  <rect x="652.9" y="254.8" width="45.4" height="10.7" rx="2"/>
  <path d="M652.9,257 L642.7,262 L645.6,267.3 L652.9,264.9"/>
  <path d="M698.3,257 L708,262 L705,267.3 L698.3,264.9"/>
  <line x1="634.9" y1="261.6" x2="642.7" y2="261.6"/>
  <line x1="635.5" y1="266.1" x2="644.8" y2="266.1"/>
  <line x1="708" y1="261.6" x2="716.5" y2="261.6"/>
  <line x1="705.8" y1="266.1" x2="716.5" y2="266.1"/>
  <circle cx="675.3" cy="259.5" r="2"/>
  <line x1="675.3" y1="249.5" x2="675.3" y2="257.3" stroke-dasharray="1.2,0.8" stroke="#555"/>
  <line x1="675.3" y1="261.7" x2="675.3" y2="266.3" stroke-dasharray="1.2,0.8" stroke="#555"/>
  <!-- icon3 band width -->
  <circle cx="674.8" cy="337.2" r="22"/>
  <circle cx="674.8" cy="337.2" r="19.8"/>
  <line x1="663.8" y1="307.4" x2="663.8" y2="315.8"/>
  <line x1="686.2" y1="307.4" x2="686.2" y2="315.8"/>
  <line x1="663.8" y1="358.6" x2="663.8" y2="369.6"/>
  <line x1="686.2" y1="358.6" x2="686.2" y2="369.6"/>
  <polyline points="667.9,332.3 674.6,337.4 682.4,326.4"/>
  <line x1="663" y1="366.1" x2="687.5" y2="366.1" stroke-dasharray="1.5,1" stroke="#555"/>
  <!-- icon4 band length -->
  <g transform="translate(676.6,433.4) rotate(-42)">
    <circle cx="0" cy="0" r="9.8"/>
    <path d="M-9.7,-4.4 L-42,-4.4 L-46,0.8 L-42,5.8 L-8.6,5.8"/>
    <path d="M9.6,-4.6 L36,-4.6 L36,4.6 L9.6,4.6"/>
    <path d="M28,-4.6 L28,4.6 M31,-4.6 L31,4.6 M33.5,-5.4 L37,-5.4 L37,5.4 L33.5,5.4 Z"/>
    <circle cx="-17.5" cy="1.3" r="1.75"/>
    <circle cx="-22.5" cy="1.3" r="1.75"/>
    <circle cx="-27.5" cy="1.3" r="1.75"/>
    <circle cx="-32.5" cy="1.3" r="1.75"/>
    <circle cx="-37.5" cy="1.3" r="1.75"/>
  </g>
  <line x1="654" y1="477.6" x2="712.6" y2="418.4" stroke-dasharray="2,1.4" stroke="#555"/>
  <!-- icon5 scale -->
  <path d="M648.5,497.3 L711,497.3 Q712,497.3 711.5,499 Q706,510 684.2,512 L684.2,516 L674.7,516 L674.7,512 Q653,510 648,499 Q647.5,497.3 648.5,497.3 Z"/>
  <line x1="649" y1="499.3" x2="710.5" y2="499.3"/>
  <path d="M670,520 L689,520 Q697,520 699.5,528 L705.5,557 Q706.5,561.5 702,561.5 L658,561.5 Q653.5,561.5 654.5,557 L660,528 Q662.5,520 670,520 Z"/>
  <ellipse cx="679.8" cy="539.8" rx="17.4" ry="15"/>
  <line x1="672" y1="536" x2="679.3" y2="539.3" stroke-width="1.6"/>
  <circle cx="679.8" cy="539.8" r="1.6"/>
</g>
<g stroke="#6a6a6a" stroke-width="1.8" fill="none" stroke-linecap="butt">
  <line x1="690.4" y1="539.8" x2="693.8" y2="539.8"/>
  <line x1="687.3" y1="546.1" x2="689.7" y2="548.2"/>
  <line x1="679.8" y1="548.7" x2="679.8" y2="551.7"/>
  <line x1="672.3" y1="546.1" x2="669.9" y2="548.2"/>
  <line x1="669.2" y1="539.8" x2="665.8" y2="539.8"/>
  <line x1="672.3" y1="533.5" x2="669.9" y2="531.4"/>
  <line x1="679.8" y1="530.9" x2="679.8" y2="527.9"/>
  <line x1="687.3" y1="533.5" x2="689.7" y2="531.4"/>
</g>
<g fill="#333">
  <path d="M649,177.6 L654,180.2 L649,182.8Z"/>
  <path d="M700,177.6 L695,180.2 L700,182.8Z"/>
  <path d="M660.8,364 L664.5,366.1 L660.8,368.2Z"/>
  <path d="M689.6,364 L685.9,366.1 L689.6,368.2Z"/>
  <rect x="674.3" y="248.6" width="2" height="2"/>
  <rect x="674.3" y="265.5" width="2" height="2"/>
  <path d="M652.5,479 L652.8,474 L657,478.2Z"/>
  <path d="M714,416.9 L713.7,421.9 L709.5,417.7Z"/>
</g>

</svg>
</body></html>
